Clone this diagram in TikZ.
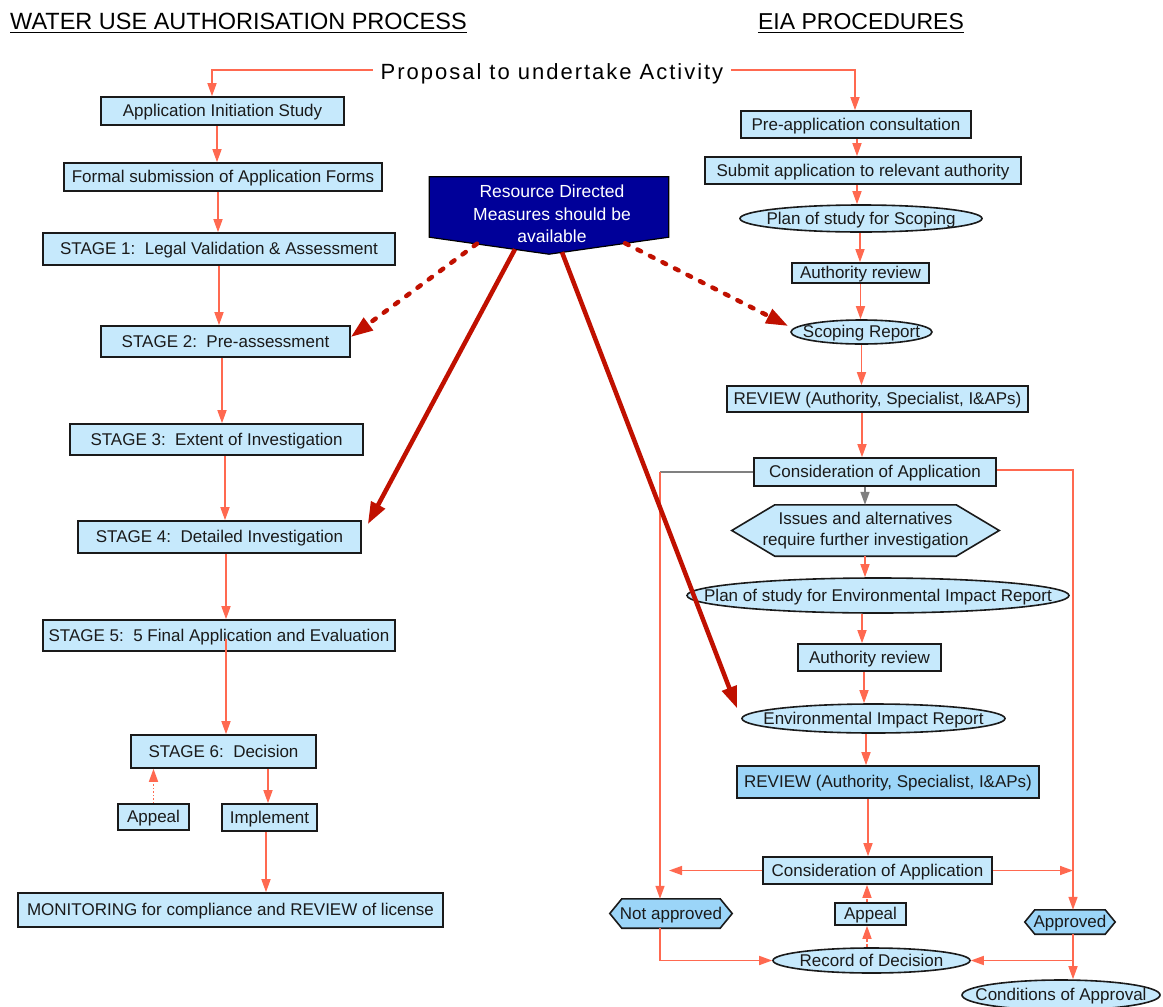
\documentclass[tikz,border=0pt]{standalone}
\usepackage{fontspec}
\setmainfont{Liberation Sans}
\usetikzlibrary{arrows.meta,shapes.geometric,calc}
\pgfdeclarelayer{bg}
\pgfsetlayers{bg,main}
\definecolor{salmon}{RGB}{255,105,80}
\definecolor{boxfill}{RGB}{198,233,252}
\definecolor{boxdark}{RGB}{155,213,248}
\definecolor{navyb}{RGB}{0,0,153}
\definecolor{dred}{RGB}{192,16,0}
\definecolor{ink}{RGB}{26,26,26}
\definecolor{greyl}{RGB}{128,128,128}
\newcommand\myhex[3]{%
  \begin{pgfonlayer}{bg}
  \draw[draw=ink, line width=1.6pt, fill=#3] (#1.west) -- ([xshift=#2]#1.north west) -- ([xshift=-#2]#1.north east) -- (#1.east) -- ([xshift=-#2]#1.south east) -- ([xshift=#2]#1.south west) -- cycle;
  \end{pgfonlayer}}
\begin{document}
\begin{tikzpicture}[x=1pt,y=-1pt,
  every node/.style={font=\fontsize{17}{21}\selectfont, text=ink, inner sep=0pt},
  tx/.style={text height=12pt, text depth=1pt},
  every label/.style={tx},
  box/.style={tx, draw=ink, line width=1.6pt, fill=boxfill, rectangle},
  ell/.style={draw=ink, line width=1.6pt, fill=boxfill, ellipse},
  arr/.style={draw=salmon, line width=1.5pt, -{Triangle[length=13pt,width=9pt]}},
  big/.style={draw=dred, line width=4.5pt, -{Triangle[length=22pt,width=15pt]}},
  bigdot/.style={big, dash pattern=on 4pt off 10pt, line cap=round},
  ttl/.style={font=\fontsize{23.5}{28}\selectfont, text=black},
]
\begin{pgfonlayer}{bg}
\fill[white] (0,0) rectangle (1163,1007);
\end{pgfonlayer}
\useasboundingbox (0,0) rectangle (1163,1007);

% titles
\node[ttl, anchor=base west] (t1) at (10,29) {WATER USE AUTHORISATION PROCESS};
\draw[black, line width=1.4pt] ([yshift=-3.5]t1.base west) -- ([yshift=-3.5]t1.base east);
\node[ttl, font=\fontsize{23}{28}\selectfont, anchor=base] (t2) at (861,29) {EIA PROCEDURES};
\draw[black, line width=1.4pt] ([yshift=-3.5]t2.base west) -- ([yshift=-3.5]t2.base east);

\node[font=\fontsize{22}{26}\selectfont\addfontfeature{LetterSpace=9}, text=black, inner xsep=8pt, text height=15pt, text depth=1pt] (prop) at (552,72) {Proposal to undertake Activity};

% left column
\node[box, minimum width=243, minimum height=28] (ais) at (222.5,111) {Application Initiation Study};
\node[box, minimum width=318, minimum height=28] (formal) at (223,177) {Formal submission of Application Forms};
\node[box, minimum width=352, minimum height=32] (s1) at (219,249) {STAGE 1:\ \ Legal Validation \& Assessment};
\node[box, minimum width=249, minimum height=31] (s2) at (225.5,341.5) {STAGE 2:\ \ Pre-assessment};
\node[box, minimum width=293, minimum height=31] (s3) at (216.5,439.5) {STAGE 3:\ \ Extent of Investigation};
\node[box, minimum width=283, minimum height=32] (s4) at (219.5,537) {STAGE 4:\ \ Detailed Investigation};
\node[box, minimum width=352, minimum height=31] (s5) at (219,635.5) {STAGE 5:\ \ 5 Final Application and Evaluation};
\node[box, minimum width=185, minimum height=33] (s6) at (223.5,751.5) {STAGE 6:\ \ Decision};
\node[box, minimum width=71, minimum height=26] (appealL) at (153.5,817) {Appeal};
\node[box, minimum width=95, minimum height=27] (impl) at (269.5,817.5) {Implement};
\node[box, minimum width=425, minimum height=34] (mon) at (230.5,910) {MONITORING for compliance and REVIEW of license};

% right column
\node[box, minimum width=230, minimum height=27] (pre) at (856,124.5) {Pre-application consultation};
\node[box, minimum width=316, minimum height=27] (submit) at (863,170.5) {Submit application to relevant authority};
\node[ell, minimum width=242, minimum height=27, label={center:Plan of study for Scoping}] (planS) at (861,218.5) {};
\node[box, minimum width=137, minimum height=20] (authR1) at (860.5,273) {Authority review};
\node[ell, minimum width=141, minimum height=24, label={center:Scoping Report}] (scoping) at (861.5,332) {};
\node[box, minimum width=301, minimum height=26] (review1) at (877.5,399) {REVIEW (Authority, Specialist, I\&APs)};
\node[box, minimum width=242, minimum height=28] (cons1) at (875,472) {Consideration of Application};
\node[align=center, minimum width=267, minimum height=51] (issues) at (865.5,530.5) {Issues and alternatives\\require further investigation};
\myhex{issues}{43}{boxfill}
\node[ell, minimum width=382, minimum height=35, label={center:Plan of study for Environmental Impact Report}] (planE) at (878,595.5) {};
\node[box, minimum width=143, minimum height=27] (authR2) at (869.5,657.5) {Authority review};
\node[ell, minimum width=263, minimum height=29, label={center:Environmental Impact Report}] (eir) at (873.5,718.5) {};
\node[box, fill=boxdark, minimum width=302, minimum height=32] (review2) at (888,782) {REVIEW (Authority, Specialist, I\&APs)};
\node[box, minimum width=229, minimum height=27] (cons2) at (877.5,870.5) {Consideration of Application};
\node[tx, minimum width=122, minimum height=29] (notap) at (671,913.5) {Not approved};
\myhex{notap}{12}{boxdark}
\node[box, minimum width=71, minimum height=22] (appealR) at (870.5,914) {Appeal};
\node[tx, minimum width=90, minimum height=24] (approved) at (1070,922) {Approved};
\myhex{approved}{10}{boxdark}
\node[ell, minimum width=197, minimum height=25, label={center:Record of Decision}] (record) at (871.5,960.5) {};
\node[ell, minimum width=198, minimum height=30, label={center:Conditions of Approval}] (cond) at (1061,995) {};

% resource directed measures
\node[text=white, align=center, font=\fontsize{17.5}{22.5}\selectfont, minimum width=239, minimum height=77] (rdm) at (552,214) {Resource Directed\\Measures should be\\available};
\begin{pgfonlayer}{bg}
\draw[draw=black, line width=1.2pt, fill=navyb] ([xshift=-3,yshift=-1.5]rdm.north west) -- ([xshift=-3,yshift=-1.5]rdm.north east) -- ([xshift=-3,yshift=15.5]rdm.south east) -- ([xshift=-3,yshift=-1.5]rdm.south) -- ([xshift=-3,yshift=15.5]rdm.south west) -- cycle;
\end{pgfonlayer}
\coordinate (rtip) at ([xshift=-3,yshift=-1.5]rdm.south);

% proposal connectors
\draw[arr] ([yshift=2]prop.west) -| ([xshift=-10.5]ais.north);
\draw[arr] ([yshift=2]prop.east) -| ([xshift=-1]pre.north);

% left connectors
\draw[arr] ([xshift=-5.5]ais.south) -- ([xshift=-5.5]ais.south |- formal.north);
\draw[arr] ([xshift=-5]formal.south) -- ([xshift=-5]formal.south |- s1.north);
\draw[arr] (s1.south) -- (s1.south |- s2.north);
\draw[arr] ([xshift=-3.5]s2.south) -- ([xshift=-3.5]s2.south |- s3.north);
\draw[arr] ([xshift=8.5]s3.south) -- ([xshift=8.5]s3.south |- s4.north);
\draw[arr] ([xshift=6.5]s4.south) -- ([xshift=6.5]s4.south |- s5.north);
\draw[arr] ([xshift=7,yshift=-3]s5.center) -- ([xshift=7]s5.center |- s6.north);
\draw[arr, dotted] (appealL.north) -- (appealL.north |- s6.south);
\draw[arr] ([xshift=-1.5]impl.north |- s6.south) -- ([xshift=-1.5]impl.north);
\draw[arr] ([xshift=-3.5]impl.south) -- ([xshift=-3.5]impl.south |- mon.north);

% right connectors
\draw[arr] ([xshift=1]pre.south) -- ([xshift=1]pre.south |- submit.north);
\draw[arr] ([xshift=-6]submit.south) -- ([xshift=-6]submit.south |- planS.north);
\draw[arr] ([xshift=-1]planS.south) -- ([xshift=-1]planS.south |- authR1.north);
\draw[arr] (authR1.south) -- (authR1.south |- scoping.north);
\draw[arr] (scoping.south) -- (scoping.south |- review1.north);
\draw[arr] ([xshift=-15.5]review1.south) -- ([xshift=-15.5]review1.south |- cons1.north);
\draw[draw=greyl, line width=1.5pt, -{Triangle[length=13pt,width=9pt]}] ([xshift=-10]cons1.south) -- ([xshift=-10]cons1.south |- issues.north);
\draw[arr] ([xshift=-0.5]issues.south) -- ([xshift=-0.5]issues.south |- planE.north);
\draw[arr] ([xshift=-16]planE.south) -- ([xshift=-16]planE.south |- authR2.north);
\draw[arr] ([xshift=-5.5]authR2.south) -- ([xshift=-5.5]authR2.south |- eir.north);
\draw[arr] ([xshift=-7.5]eir.south) -- ([xshift=-7.5]eir.south |- review2.north);
\draw[arr] ([xshift=-20]review2.south) -- ([xshift=-20]review2.south |- cons2.north);

\coordinate (lc) at (660,472);
\coordinate (rc) at (1073,470);
\draw[draw=greyl, line width=1.5pt] (cons1.west) -- (lc);
\draw[arr] (lc) -- (lc |- notap.north);
\draw[arr] ([yshift=2]cons1.east) -- (rc) -- (rc |- approved.north);
\draw[arr] (cons2.west) -- ([xshift=9]cons2.west -| lc);
\draw[arr] (cons2.east) -- (cons2.east -| rc);
\draw[arr] (notap.south -| lc) -- (lc |- record.west) -- (record.west);
\draw[arr] (approved.south -| rc) -- (rc |- record.east) -- (record.east);
\draw[arr] (approved.south -| rc) -- (rc |- cond.north);
\draw[arr, dash pattern=on 3pt off 2pt] ([xshift=-3.5]appealR.south |- record.north) -- ([xshift=-3.5]appealR.south);
\draw[arr, dash pattern=on 3pt off 2pt] ([xshift=-3.5]appealR.north) -- ([xshift=-3.5]appealR.north |- cons2.south);

% resource directed arrows
\draw[big] ([xshift=-34,yshift=5]rtip) -- ([xshift=6,yshift=-4]s4.north east);
\draw[big] ([xshift=13,yshift=2]rtip) -- ([xshift=-4,yshift=10]eir.west);
\draw[bigdot] ([xshift=-72,yshift=10.5]rtip) -- ([yshift=4.5]s2.east);
\draw[bigdot] ([xshift=76,yshift=11]rtip) -- ([xshift=-2,yshift=6]scoping.west);
\end{tikzpicture}
\end{document}
